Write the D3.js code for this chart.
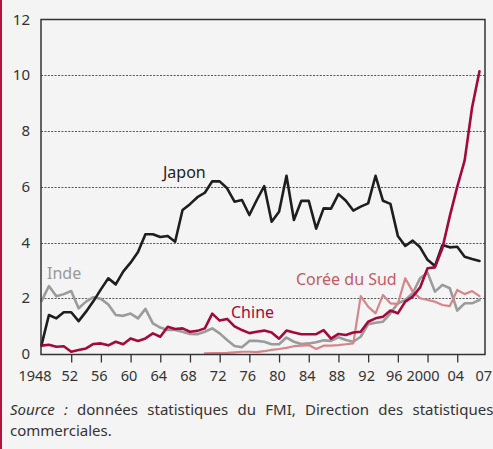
<!DOCTYPE html>
<head>
  <meta charset="utf-8">
  <script src="https://d3js.org/d3.v7.min.js"></script>
  <style>
    body { margin: 0; background: #f4f4f4; }
    svg { display: block; background: #f4f4f4; }
    text { font-family: "Noto Sans", "Open Sans", sans-serif; fill: #333; }
    .y-label { font-size: 15px; }
    .x-label { font-size: 14.5px; }
    .grid { stroke: #555; stroke-width: 1; stroke-dasharray: 2,1.4; }
    .frame { fill: none; stroke: #333; stroke-width: 1.5; }
    .serie { fill: none; stroke-linejoin: round; stroke-linecap: round; }
    .note { font-size: 15px; fill: #333; }
  </style>
</head>
<body>
  <script>
    var W = 493, H = 449;

    // years & values (share in %)
    var years = d3.range(1948, 2008);

    var japon = [0.32, 1.4, 1.28, 1.5, 1.5, 1.18, 1.52, 1.9, 2.32, 2.72, 2.5, 2.96, 3.28, 3.66, 4.3, 4.3, 4.2, 4.24, 4.03, 5.17,
                 5.38, 5.63, 5.79, 6.2, 6.2, 5.95, 5.47, 5.53, 4.99, 5.53, 6.03, 4.75, 5.11, 6.4, 4.81, 5.5,
                 5.5, 4.5, 5.23, 5.22, 5.74, 5.5, 5.15, 5.29, 5.41, 6.4, 5.5, 5.39, 4.24, 3.88, 4.07, 3.83,
                 3.38, 3.16, 3.91, 3.83, 3.85, 3.49, 3.41, 3.34];
    var chine = [0.3, 0.33, 0.26, 0.28, 0.08, 0.14, 0.2, 0.36, 0.38, 0.31, 0.44, 0.35, 0.56, 0.47, 0.56, 0.74, 0.62, 0.98, 0.9, 0.92,
                 0.8, 0.83, 0.92, 1.45, 1.2, 1.26, 0.99, 0.86, 0.75, 0.8, 0.84, 0.77, 0.55, 0.84, 0.77, 0.71,
                 0.71, 0.71, 0.86, 0.55, 0.72, 0.68, 0.77, 0.8, 1.16, 1.28, 1.34, 1.56, 1.46, 1.88, 2.06, 2.39,
                 3.08, 3.11, 3.8, 4.95, 6.0, 6.95, 8.85, 10.15];
    var inde = [1.9, 2.44, 2.07, 2.15, 2.26, 1.64, 1.88, 2.04, 1.98, 1.78, 1.4, 1.37, 1.45, 1.28, 1.62, 1.1, 0.95, 0.86, 0.86, 0.8,
                0.72, 0.71, 0.8, 0.92, 0.74, 0.5, 0.29, 0.24, 0.47, 0.47, 0.44, 0.35, 0.35, 0.59, 0.44, 0.36,
                0.38, 0.42, 0.49, 0.47, 0.6, 0.5, 0.44, 0.62, 1.07, 1.12, 1.16, 1.46, 1.82, 1.94, 2.18, 2.72,
                2.92, 2.24, 2.48, 2.36, 1.56, 1.82, 1.82, 1.94];
    var coree = [null, null, null, null, null, null, null, null, null, null, null, null, null, null, null, null, null, null, null, null,
                 null, null, 0.02, 0.03, 0.03, 0.04, 0.06, 0.08, 0.08, 0.07, 0.1, 0.15, 0.18, 0.22, 0.28, 0.3,
                 0.32, 0.18, 0.3, 0.3, 0.32, 0.35, 0.38, 2.08, 1.7, 1.46, 2.12, 1.82, 1.8, 2.72, 2.24, 2.0,
                 1.94, 1.88, 1.76, 1.72, 2.3, 2.15, 2.26, 2.08];

    var yTicks = [0, 2, 4, 6, 8, 10, 12];
    var xTickYears = [1952, 1956, 1960, 1964, 1968, 1972, 1976, 1980, 1984, 1988, 1992, 1996, 2000, 2004];
    var xLabelYears = [1948, 1952, 1956, 1960, 1964, 1968, 1972, 1976, 1980, 1984, 1988, 1992, 1996, 2000, 2004, 2007];
    var xLabels = ["1948", "52", "56", "60", "64", "68", "72", "76", "80", "84", "88", "92", "96", "2000", "04", "07"];

    var series = [
      {name: "Inde", values: inde, color: "#9b9b9b", width: 2.6, label: [47, 279], labelColor: "#999"},
      {name: "Corée du Sud", values: coree, color: "#d4868a", width: 2.2, label: [296, 285], labelColor: "#c55a62"},
      {name: "Japon", values: japon, color: "#1e1e1e", width: 2.6, label: [163, 178], labelColor: "#222"},
      {name: "Chine", values: chine, color: "#a30a3b", width: 2.6, label: [231, 318], labelColor: "#a30a3b"}
    ];

    var plot = {left: 41, right: 485, top: 19.5, bottom: 354.5};

    var x = d3.scaleLinear().domain([1948, 2007]).range([41.5, 479.5]);
    var y = d3.scaleLinear().domain([0, 12]).range([354, 19.8]);

    var svg = d3.select("body").append("svg")
      .attr("width", W)
      .attr("height", H);

    // red bar on the left
    svg.append("rect")
      .attr("x", 0).attr("y", 0)
      .attr("width", 2).attr("height", H)
      .attr("fill", "#b3123f");

    // dotted grid
    svg.append("g").selectAll("line")
      .data(yTicks.filter(d => d > 0 && d < 12))
      .enter().append("line")
        .attr("class", "grid")
        .attr("x1", plot.left).attr("x2", plot.right)
        .attr("y1", d => Math.round(y(d)) + 0.5)
        .attr("y2", d => Math.round(y(d)) + 0.5);

    // y labels
    svg.append("g").selectAll("text")
      .data(yTicks)
      .enter().append("text")
        .attr("class", "y-label")
        .attr("text-anchor", "end")
        .attr("x", 30)
        .attr("y", d => y(d))
        .attr("dy", "0.33em")
        .text(d => d);

    // x ticks
    var xAxis = d3.axisBottom(x)
      .tickValues(xTickYears)
      .tickSize(8)
      .tickFormat("");
    var gx = svg.append("g")
      .attr("transform", "translate(0," + plot.bottom + ")")
      .call(xAxis);
    gx.select(".domain").remove();
    gx.selectAll(".tick line").attr("stroke", "#333").attr("stroke-width", 1.3);

    // x labels (a few nudged as in the original layout)
    var shift = {1948: -5, 1996: -2, 2000: -3};
    svg.append("g").selectAll("text")
      .data(xLabelYears)
      .enter().append("text")
        .attr("class", "x-label")
        .attr("text-anchor", d => d === 2007 ? "end" : "middle")
        .attr("x", d => d === 2007 ? 492 : x(d) - 1.5 + (shift[d] || 0))
        .attr("y", 381)
        .text((d, i) => xLabels[i]);

    // lines
    var line = d3.line()
      .defined(d => d.v != null)
      .x(d => x(d.year))
      .y(d => y(d.v));

    svg.append("g").selectAll("path")
      .data(series)
      .enter().append("path")
        .attr("class", "serie")
        .attr("stroke", d => d.color)
        .attr("stroke-width", d => d.width)
        .attr("d", d => line(years.map((yr, i) => ({year: yr, v: d.values[i]}))));

    // frame
    svg.append("rect")
      .attr("class", "frame")
      .attr("x", plot.left).attr("y", plot.top)
      .attr("width", plot.right - plot.left)
      .attr("height", plot.bottom - plot.top);

    // series labels
    svg.append("g").selectAll("text")
      .data(series)
      .enter().append("text")
        .attr("x", d => d.label[0])
        .attr("y", d => d.label[1])
        .style("font-size", "16px")
        .style("fill", d => d.labelColor)
        .text(d => d.name);

    // source note, first line justified
    var note1 = svg.append("text")
      .attr("class", "note")
      .attr("x", 10)
      .attr("y", 415);
    note1.append("tspan").style("font-style", "italic").text("Source :");
    note1.append("tspan").text(" données statistiques du FMI, Direction des statistiques");
    var len = note1.node().getComputedTextLength();
    var gaps = 7;
    note1.attr("word-spacing", Math.max(0, (488 - 10 - len) / gaps));

    svg.append("text")
      .attr("class", "note")
      .attr("x", 10)
      .attr("y", 436)
      .text("commerciales.");
  </script>
</body>
